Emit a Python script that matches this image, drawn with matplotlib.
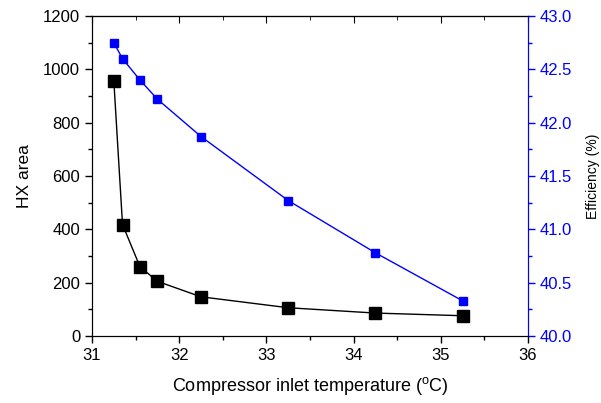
import matplotlib
matplotlib.use("Agg")
import matplotlib.pyplot as plt
from matplotlib.ticker import MultipleLocator

plt.rcParams['font.family'] = ['Liberation Sans', 'DejaVu Sans']

temp = [31.25, 31.35, 31.55, 31.75, 32.25, 33.25, 34.25, 35.25]
hx_area = [958, 418, 260, 205, 147, 106, 86, 76]
efficiency = [42.75, 42.60, 42.40, 42.22, 41.87, 41.27, 40.78, 40.33]

fig = plt.figure(figsize=(6.01, 4.03), dpi=100)
ax = fig.add_axes([92 / 601, 1 - 336 / 403, 436 / 601, 320 / 403])

ax.plot(temp, hx_area, color='black', lw=1, marker='s', ms=9, zorder=3)
ax.set_xlim(31, 36)
ax.set_ylim(0, 1200)
ax.xaxis.set_major_locator(MultipleLocator(1))
ax.xaxis.set_minor_locator(MultipleLocator(0.5))
ax.yaxis.set_major_locator(MultipleLocator(200))
ax.yaxis.set_minor_locator(MultipleLocator(100))
ax.tick_params(axis='both', which='both', labelsize=12, width=1)
ax.tick_params(which='major', length=5)
ax.tick_params(which='minor', length=3)
ax.set_xlabel('Compressor inlet temperature ($\\mathregular{^oC}$)', fontsize=13, labelpad=9)
ax.set_ylabel('HX area', fontsize=12.5, labelpad=8)

ax2 = ax.twinx()
ax2.plot(temp, efficiency, color='blue', lw=1, marker='s', ms=6)
ax2.set_ylim(40, 43)
ax2.yaxis.set_major_locator(MultipleLocator(0.5))
ax2.yaxis.set_minor_locator(MultipleLocator(0.25))
ax2.yaxis.set_major_formatter(plt.FormatStrFormatter('%.1f'))
ax2.tick_params(axis='y', which='both', colors='blue', labelsize=12, width=1)
ax2.tick_params(which='major', length=5)
ax2.tick_params(which='minor', length=3)
ax2.spines['right'].set_color('blue')
ax2.set_ylabel('Efficiency (%)', fontsize=10, labelpad=10)

# top ticks pointing inward, no labels
top = ax.secondary_xaxis('top')
top.xaxis.set_major_locator(MultipleLocator(1))
top.xaxis.set_minor_locator(MultipleLocator(0.5))
top.tick_params(which='both', direction='in', labeltop=False)
top.tick_params(which='major', length=5)
top.tick_params(which='minor', length=3)

fig.savefig('out.png', dpi=100)
